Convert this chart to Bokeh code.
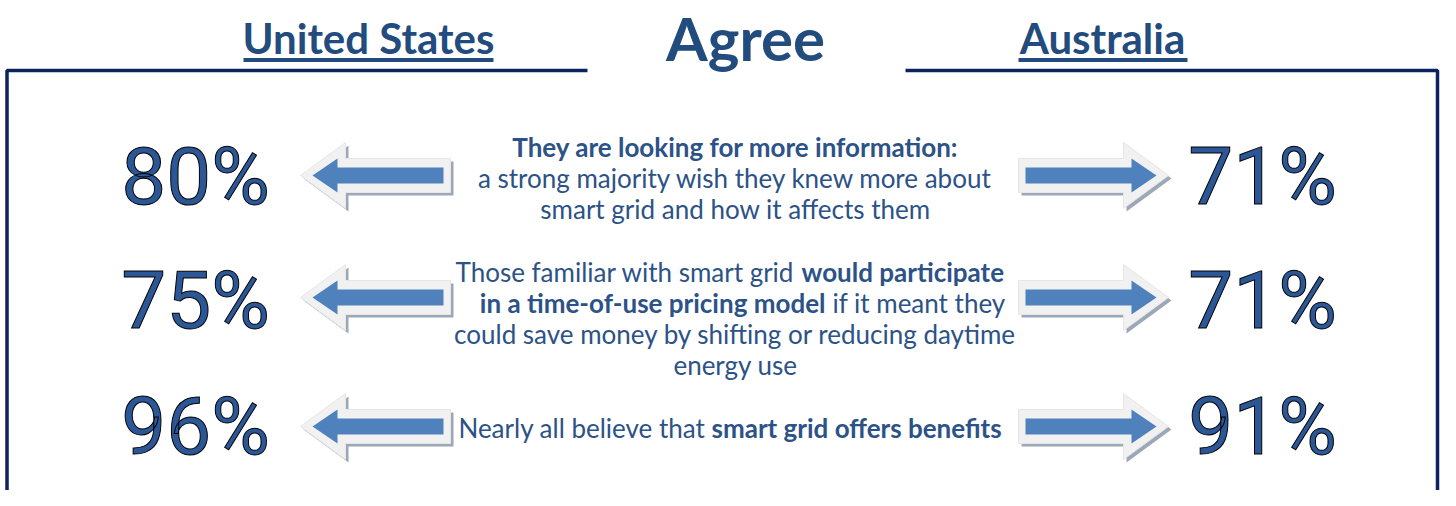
from bokeh.plotting import figure
from bokeh.models import Range1d, ColumnDataSource
from bokeh.core.properties import value
from bokeh.embed import file_html
from bokeh.resources import INLINE

# ---------------- data ----------------
countries = ["United States", "Australia"]
header = "Agree"
us_values = [80, 75, 96]
au_values = [71, 71, 91]

# statement lines: each line is a list of (text, bold) segments
statements = [
    [[("They are looking for more information:", True)],
     [("a strong majority wish they knew more about", False)],
     [("smart grid and how it affects them", False)]],
    [[("Those familiar with smart grid", False), ("would participate", True)],
     [("in a time-of-use pricing model", True), ("if it meant they", False)],
     [("could save money by shifting or reducing daytime", False)],
     [("energy use", False)]],
    [[("Nearly all believe that", False), ("smart grid offers benefits", True)]],
]

# ---------------- layout ----------------
W, H = 1440, 490
BL = 0.37                           # baseline correction (fraction of font size)
row_y = [175, 297, 426]             # arrow centre lines
pct_baseline = [206, 330, 456]
first_baseline = [156, 281, 437]
line_gap = 31
split_x = {(1, 0): (794, 801), (1, 1): (825, 832), (2, 0): (705, 711)}
mid_x = 735

NAVY = "#0b2460"
TITLE = "#224b7e"
TXT = "#2c5287"
BLUE = "#4f81bd"
PCT = "#2b5797"

p = figure(width=W, height=H, output_backend="svg", toolbar_location=None,
           x_range=Range1d(0, W), y_range=Range1d(H, 0),
           x_axis_type=None, y_axis_type=None, min_border=0,
           outline_line_color=None, background_fill_color="white",
           border_fill_color="white")
p.grid.visible = False

# frame
p.line([6.5, 6.5, 587], [H, 70, 70], line_color=NAVY, line_width=3.5)
p.line([905, 1437, 1437], [70, 70, H], line_color=NAVY, line_width=3.5)

# titles
fs_t, fs_h = 42, 60
p.text(x=[368, 1102], y=[53 - BL * fs_t] * 2, text=countries, text_align="center",
       text_baseline="alphabetic", text_font=value("Lato"),
       text_font_style="bold", text_font_size=f"{fs_t}px", text_color=TITLE)
p.segment(x0=[243, 1018], y0=[59.5, 59.5], x1=[493, 1187], y1=[59.5, 59.5],
          line_color=TITLE, line_width=4)
p.text(x=[745], y=[60 - BL * fs_h], text=[header], text_align="center",
       text_baseline="alphabetic", text_font=value("Lato"),
       text_font_style="bold", text_font_size=f"{fs_h}px", text_color=TITLE)

# arrows
def arrow(tip, yc, direction, inner=False, dx=0, dy=0):
    if inner:
        t, hb, ht, sh, end = 12, 37, 17, 8, 143
    else:
        t, hb, ht, sh, end = 0, 45, 33, 17, 150
    pts = [(t, 0), (hb, -ht), (hb, -sh), (end, -sh), (end, sh), (hb, sh), (hb, ht)]
    xs = [tip + direction * a + dx for a, b in pts]
    ys = [yc + b + dy for a, b in pts]
    return xs, ys

sx, sy, ox, oy, ix, iy = [], [], [], [], [], []
for yc in row_y:
    for tip, d in ((300, 1), (1168, -1)):
        a, b = arrow(tip, yc, d, dx=3, dy=3); sx.append(a); sy.append(b)
        a, b = arrow(tip, yc, d); ox.append(a); oy.append(b)
        a, b = arrow(tip, yc, d, inner=True); ix.append(a); iy.append(b)
p.patches(sx, sy, fill_color="#9ca8b7", line_color=None)
p.patches(ox, oy, fill_color="#f1f1f1", line_color="#e6e6e6", line_width=1)
p.patches(ix, iy, fill_color=BLUE, line_color=None)

# percentages
fs_p = 80
pct_kw = dict(text_align="center", text_baseline="alphabetic",
              text_font=value("Roboto"), text_font_size=f"{fs_p}px",
              text_color=PCT, text_outline_color="black")
pct_y = [b - BL * fs_p for b in pct_baseline]
p.text(x=[195] * 3, y=pct_y, text=[f"{v}%" for v in us_values], **pct_kw)
p.text(x=[1262] * 3, y=pct_y, text=[f"{v}%" for v in au_values], **pct_kw)

# statements
fs_s = 26
seg = {"x": [], "y": [], "text": [], "align": [], "style": []}
for r, lines in enumerate(statements):
    for li, segs in enumerate(lines):
        yb = first_baseline[r] + li * line_gap - BL * fs_s
        if len(segs) == 1:
            seg["x"].append(mid_x); seg["y"].append(yb); seg["text"].append(segs[0][0])
            seg["align"].append("center"); seg["style"].append("bold" if segs[0][1] else "normal")
        else:
            xl, xr = split_x[(r, li)]
            (t1, b1), (t2, b2) = segs
            seg["x"] += [xl, xr]; seg["y"] += [yb, yb]; seg["text"] += [t1, t2]
            seg["align"] += ["right", "left"]
            seg["style"] += ["bold" if b1 else "normal", "bold" if b2 else "normal"]
src = ColumnDataSource(seg)
p.text(x="x", y="y", text="text", text_align="align", text_font_style="style",
       source=src, text_baseline="alphabetic", text_font=value("Lato"),
       text_font_size=f"{fs_s}px", text_color=TXT)

open("out.html", "w").write(file_html(p, INLINE))
